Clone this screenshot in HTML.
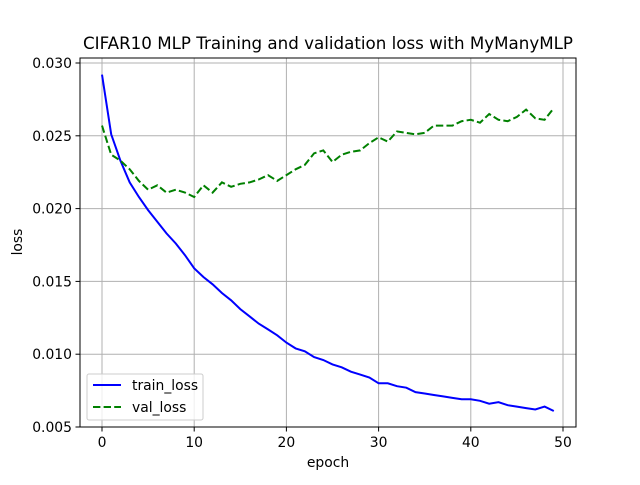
<!DOCTYPE html>
<html><head><meta charset="utf-8"><style>
body{margin:0;background:#fff;font-family:"Liberation Sans","DejaVu Sans",sans-serif;}
svg text{font-family:"DejaVu Sans","Liberation Sans",sans-serif;}
</style></head><body>
<svg id="chart" width="640" height="480" xmlns="http://www.w3.org/2000/svg">
<rect width="640" height="480" fill="#fff"/>
<g id="grid"></g><g id="series"></g><g id="axes"></g>
</svg>
<script>
const epochs = Array.from({length:50},(_,i)=>i);
const trainLoss = [.0292,.0251,.0233,.0218,.0208,.0199,.0191,.0183,.0176,.0168,.0159,.0153,.0148,.0142,.0137,.0131,.0126,.0121,.0117,.0113,.0108,.0104,.0102,.0098,.0096,.0093,.0091,.0088,.0086,.0084,.0080,.0080,.0078,.0077,.0074,.0073,.0072,.0071,.0070,.0069,.0069,.0068,.0066,.0067,.0065,.0064,.0063,.0062,.0064,.0061];
const valLoss = [.0257,.0237,.0233,.0227,.0219,.0213,.0216,.0211,.0213,.0211,.0208,.0216,.0211,.0218,.0215,.0217,.0218,.0220,.0223,.0219,.0223,.0227,.0230,.0238,.0240,.0232,.0237,.0239,.0240,.0245,.0249,.0246,.0253,.0252,.0251,.0252,.0257,.0257,.0257,.0260,.0261,.0259,.0265,.0261,.0260,.0263,.0268,.0262,.0261,.0269];
const xTicks = [0,10,20,30,40,50];
const yTicks = [0.005,0.010,0.015,0.020,0.025,0.030];
const yTickLabels = ["0.005","0.010","0.015","0.020","0.025","0.030"];

const L=80,R=576,T=58,B=427;
const xs=v=>102+(v)*(563-102)/50;
const ys=v=>427-(v-0.005)*(427-63)/0.025;
const NS="http://www.w3.org/2000/svg";
function mk(tag,attrs,parent,text){const e=document.createElementNS(NS,tag);for(const k in attrs)e.setAttribute(k,attrs[k]);if(text!==undefined)e.textContent=text;parent.appendChild(e);return e;}
const grid=document.getElementById('grid'),series=document.getElementById('series'),axes=document.getElementById('axes');
xTicks.forEach(t=>{const x=xs(t);
 const g=mk('line',{x1:x,x2:x,y1:T,y2:B,stroke:'#b0b0b0','stroke-width':1},grid);
 
 const tk=mk('line',{x1:x,x2:x,y1:B,y2:B+4.5,stroke:'#000','stroke-width':1},axes);
 
 const lb=mk('text',{x:x,y:B+20,'font-size':13.9,'text-anchor':'middle'},axes,String(t));
 
});
yTicks.forEach((t,i)=>{const y=ys(t);
 const g=mk('line',{x1:L,x2:R,y1:y,y2:y,stroke:'#b0b0b0','stroke-width':1},grid);
 
 const tk=mk('line',{x1:L-4.5,x2:L,y1:y,y2:y,stroke:'#000','stroke-width':1},axes);
 
 const lb=mk('text',{x:L-8,y:y+5,'font-size':13.9,'text-anchor':'end'},axes,yTickLabels[i]);
 
});
const pts=a=>a.map((v,i)=>xs(epochs[i]).toFixed(1)+','+ys(v).toFixed(1)).join(' ');
const tl=mk('polyline',{points:pts(trainLoss),fill:'none',stroke:'#0000ff','stroke-width':2},series);

const vl=mk('polyline',{points:pts(valLoss),fill:'none',stroke:'#008000','stroke-width':2,'stroke-dasharray':'7.4,3.2'},series);

const fr=mk('rect',{x:L,y:T,width:R-L,height:B-T,fill:'none',stroke:'#000','stroke-width':1},axes);

const ti=mk('text',{x:328,y:49,'font-size':16.7,'text-anchor':'middle'},axes,'CIFAR10 MLP Training and validation loss with MyManyMLP');

const xt=mk('text',{x:328,y:467,'font-size':13.9,'text-anchor':'middle'},axes,'epoch');

const yt=mk('text',{x:22,y:242,'font-size':13.9,'text-anchor':'middle',transform:'rotate(-90 22 242)'},axes,'loss');

const lg=mk('g',{},axes);

mk('rect',{x:87,y:374,width:116,height:46,rx:2,fill:'#fff','fill-opacity':0.8,stroke:'#ccc','stroke-width':1},lg);
mk('line',{x1:93,x2:121,y1:385,y2:385,stroke:'#0000ff','stroke-width':2},lg);
mk('text',{x:132,y:390,'font-size':13.9},lg,'train_loss');
mk('line',{x1:93,x2:121,y1:407,y2:407,stroke:'#008000','stroke-width':2,'stroke-dasharray':'7.4,3.2'},lg);
mk('text',{x:132,y:412,'font-size':13.9},lg,'val_loss');
</script>
</body></html>
